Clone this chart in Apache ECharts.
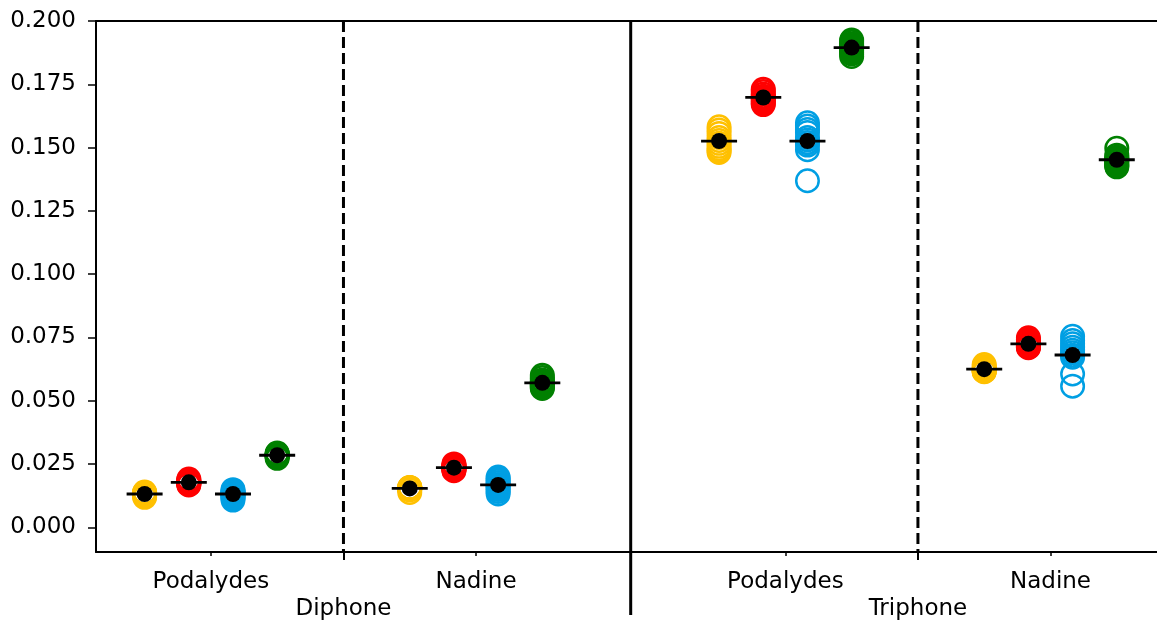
<!DOCTYPE html>
<html><head><meta charset="utf-8">
<script src="https://cdn.jsdelivr.net/npm/echarts@6/dist/echarts.min.js"></script>
<style>html,body{margin:0;padding:0;background:#fff}#c{width:1157px;height:624px}</style>
</head><body><div id="c"></div><script>
// ---- data ----
const groupNames = ['Podalydes', 'Nadine', 'Podalydes', 'Nadine'];
const corpusNames = ['Diphone', 'Triphone'];
const yTicks = [0, 0.025, 0.05, 0.075, 0.1, 0.125, 0.15, 0.175, 0.2];

// runs per group: [Diphone Podalydes, Diphone Nadine, Triphone Podalydes, Triphone Nadine]
const yellowRuns = [
  [0.0140, 0.0138, 0.0136, 0.0134, 0.0133, 0.0132, 0.0130, 0.0128, 0.0125, 0.0119],
  [0.0158, 0.0158, 0.0157, 0.0156, 0.0155, 0.0155, 0.0154, 0.0152, 0.0148, 0.0138],
  [0.1582, 0.1570, 0.1556, 0.1540, 0.1528, 0.1517, 0.1505, 0.1495, 0.1488, 0.1481],
  [0.0643, 0.0636, 0.0630, 0.0626, 0.0623, 0.0621, 0.0619, 0.0618, 0.0616, 0.0615]
];
const redRuns = [
  [0.0191, 0.0186, 0.0183, 0.0180, 0.0178, 0.0177, 0.0175, 0.0173, 0.0170, 0.0168],
  [0.0251, 0.0246, 0.0242, 0.0239, 0.0237, 0.0235, 0.0233, 0.0230, 0.0227, 0.0224],
  [0.1730, 0.1722, 0.1712, 0.1703, 0.1698, 0.1694, 0.1688, 0.1681, 0.1675, 0.1670],
  [0.0749, 0.0742, 0.0735, 0.0729, 0.0725, 0.0721, 0.0718, 0.0715, 0.0712, 0.0710]
];
const blueRuns = [
  [0.0149, 0.0145, 0.0140, 0.0136, 0.0133, 0.0130, 0.0127, 0.0122, 0.0116, 0.0108],
  [0.0199, 0.0192, 0.0185, 0.0177, 0.0170, 0.0164, 0.0157, 0.0150, 0.0142, 0.0132],
  [0.1598, 0.1585, 0.1572, 0.1560, 0.1540, 0.1530, 0.1520, 0.1510, 0.1492, 0.1369],
  [0.0755, 0.0738, 0.0725, 0.0712, 0.0700, 0.0690, 0.0680, 0.0672, 0.0606, 0.0558]
];
const greenRuns = [
  [0.0294, 0.0291, 0.0289, 0.0287, 0.0286, 0.0285, 0.0283, 0.0281, 0.0278, 0.0273],
  [0.0601, 0.0592, 0.0582, 0.0575, 0.0570, 0.0566, 0.0562, 0.0558, 0.0554, 0.0549],
  [0.1925, 0.1918, 0.1910, 0.1903, 0.1897, 0.1892, 0.1885, 0.1878, 0.1870, 0.1860],
  [0.1497, 0.1470, 0.1462, 0.1455, 0.1450, 0.1445, 0.1438, 0.1432, 0.1427, 0.1424]
];
const yellowMean = [0.0132, 0.0154, 0.1526, 0.0625];
const redMean    = [0.0178, 0.0236, 0.1698, 0.0725];
const blueMean   = [0.0132, 0.0168, 0.1526, 0.0681];
const greenMean  = [0.0285, 0.0571, 0.1895, 0.1452];

// ---- layout ----
const groupStart = [0, 6, 13, 19];       // slot of first run in each group
const groupCenter = groupStart.map(s => s + 1.5);
const corpusCenter = [4.5, 17.5];
const dividerDefs = [[4.5, 0], [11, 1], [17.5, 0]]; // 0 dashed, 1 solid
const X_MIN = -1.1, X_MAX = 22.91, Y_MIN = -0.0097, Y_MAX = 0.2;
const FONT = 'DejaVu Sans';
const FS = 23;

const colors = ['#FFC000', '#FF0000', '#009FE3', '#008000'];
const runs = [yellowRuns, redRuns, blueRuns, greenRuns];
const means = [yellowMean, redMean, blueMean, greenMean];

const series = [];
series.push({
  type: 'custom', silent: true, z: 1,
  data: dividerDefs,
  renderItem: function (params, api) {
    const x = api.value(0);
    const solid = api.value(1) === 1;
    const p1 = api.coord([x, Y_MAX]);
    const p2 = api.coord([x, Y_MIN]);
    return {
      type: 'line',
      shape: { x1: p1[0], y1: p1[1], x2: p2[0], y2: p2[1] + (solid ? 63 : 0) },
      style: { stroke: '#000', lineWidth: 3, lineDash: solid ? null : [11, 5] }
    };
  }
});
runs.forEach((r, ci) => {
  const pts = [];
  r.forEach((vals, gi) => vals.forEach(v => pts.push([groupStart[gi] + ci, v])));
  series.push({
    type: 'scatter', silent: true, z: 2,
    symbol: 'circle', symbolSize: 22.5,
    itemStyle: { color: 'rgba(0,0,0,0)', borderColor: colors[ci], borderWidth: 2.5, opacity: 1 },
    data: pts
  });
});
means.forEach((m, ci) => {
  const pts = m.map((v, gi) => [groupStart[gi] + ci, v]);
  series.push({
    type: 'scatter', silent: true, z: 3,
    symbol: 'rect', symbolSize: [36, 2.8],
    itemStyle: { color: '#000', opacity: 1 }, data: pts
  });
  series.push({
    type: 'scatter', silent: true, z: 4,
    symbol: 'circle', symbolSize: 16,
    itemStyle: { color: '#000', opacity: 1 }, data: pts
  });
});

const chart = echarts.init(document.getElementById('c'), null, { renderer: 'canvas' });
chart.setOption({
  animation: false,
  backgroundColor: '#fff',
  textStyle: { fontFamily: FONT },
  grid: { left: 96, right: 0, top: 21, bottom: 72, containLabel: false },
  xAxis: [
    {
      type: 'value', min: X_MIN, max: X_MAX, position: 'bottom',
      axisLine: { show: true, onZero: false, lineStyle: { color: '#000', width: 2 } },
      axisTick: { show: true, customValues: groupCenter, length: 4, lineStyle: { color: '#000', width: 1.5 } },
      axisLabel: { show: true, customValues: groupCenter, margin: 19, fontSize: FS, color: '#000', fontFamily: FONT,
        formatter: v => groupNames[groupCenter.indexOf(v)] || '' },
      splitLine: { show: false }
    },
    {
      type: 'value', min: X_MIN, max: X_MAX, position: 'bottom',
      axisLine: { show: false, onZero: false },
      axisTick: { show: true, customValues: corpusCenter, length: 8, lineStyle: { color: '#000', width: 2 } },
      axisLabel: { show: true, customValues: corpusCenter, margin: 46, fontSize: FS, color: '#000', fontFamily: FONT,
        formatter: v => corpusNames[corpusCenter.indexOf(v)] || '' },
      splitLine: { show: false }
    },
    {
      type: 'value', min: X_MIN, max: X_MAX, position: 'top',
      axisLine: { show: true, onZero: false, lineStyle: { color: '#000', width: 2 } },
      axisTick: { show: false }, axisLabel: { show: false }, splitLine: { show: false }
    }
  ],
  yAxis: {
    type: 'value', min: Y_MIN, max: Y_MAX,
    axisLine: { show: true, onZero: false, lineStyle: { color: '#000', width: 2 } },
    axisTick: { show: true, customValues: yTicks, length: 8, lineStyle: { color: '#000', width: 1.5 } },
    axisLabel: { show: true, customValues: yTicks, margin: 20, fontSize: FS, color: '#000', fontFamily: FONT,
      formatter: v => v.toFixed(3) },
    splitLine: { show: false }
  },
  series: series
});
</script></body></html>
